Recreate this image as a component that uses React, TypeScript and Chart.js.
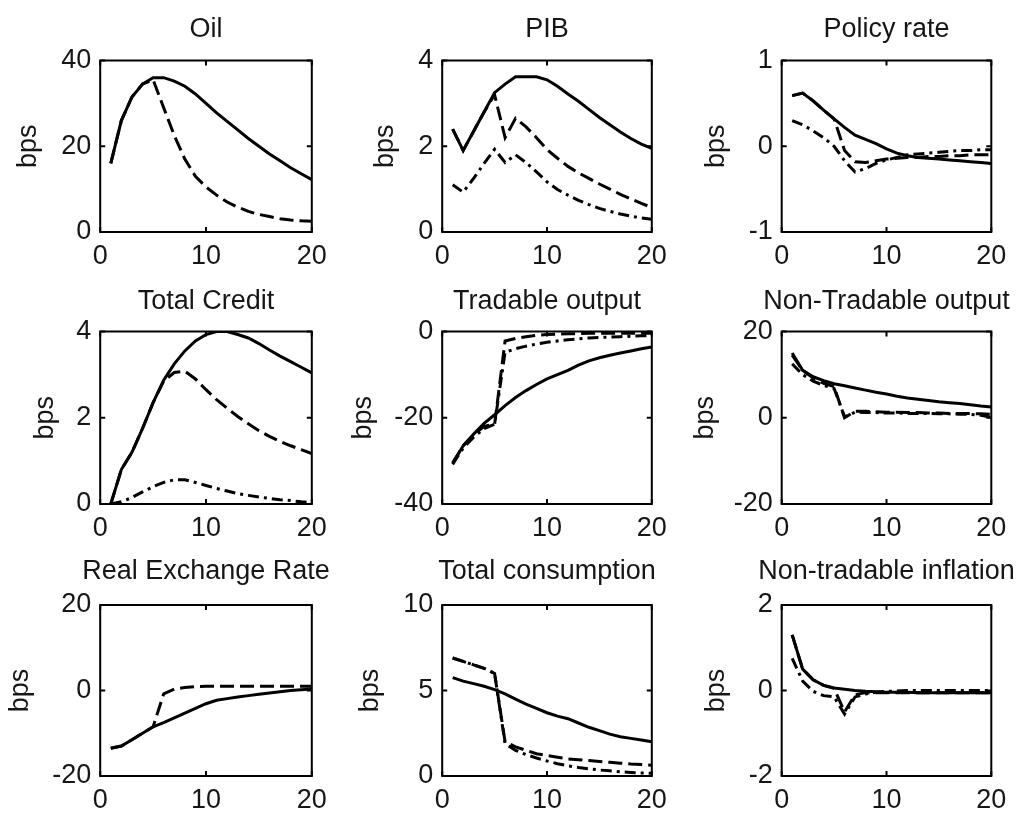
import React, { useEffect, useRef } from 'react';
import { Chart, registerables } from 'chart.js';

Chart.register(...registerables);

// ---------- DATA ----------
const periods = [1, 2, 3, 4, 5, 6, 7, 8, 9, 10, 11, 12, 13, 14, 15, 16, 17, 18, 19, 20];
const xTicks = [0, 10, 20];

const oilSolid = [16, 26, 31.5, 34.5, 36, 36, 35.2, 34, 32.2, 30, 27.8, 25.8, 23.8, 21.8, 20, 18.2, 16.6, 15, 13.6, 12.2];
const oilDashed = [16, 26, 31.5, 34.5, 35.5, 29, 22.5, 17, 13, 10.5, 8.6, 7, 5.8, 4.8, 4.1, 3.6, 3.1, 2.8, 2.6, 2.5];

const pibSolid = [2.4, 1.9, 2.35, 2.8, 3.25, 3.45, 3.62, 3.62, 3.62, 3.55, 3.4, 3.22, 3.05, 2.86, 2.67, 2.5, 2.33, 2.18, 2.05, 1.95];
const pibDashed = [2.4, 1.9, 2.35, 2.8, 3.2, 2.2, 2.65, 2.45, 2.2, 1.92, 1.72, 1.53, 1.38, 1.25, 1.12, 1.0, 0.88, 0.77, 0.67, 0.57];
const pibDashDot = [1.1, 0.93, 1.25, 1.6, 1.93, 1.62, 1.8, 1.62, 1.4, 1.17, 0.99, 0.86, 0.74, 0.64, 0.55, 0.48, 0.42, 0.37, 0.33, 0.3];

const policySolid = [0.59, 0.62, 0.53, 0.42, 0.32, 0.22, 0.13, 0.08, 0.03, -0.03, -0.08, -0.11, -0.13, -0.14, -0.15, -0.16, -0.17, -0.18, -0.19, -0.2];
const policyDashed = [0.59, 0.62, 0.53, 0.42, 0.32, -0.05, -0.18, -0.19, -0.17, -0.15, -0.14, -0.13, -0.13, -0.12, -0.12, -0.11, -0.11, -0.1, -0.1, -0.1];
const policyDashDot = [0.3, 0.25, 0.18, 0.1, 0.0, -0.17, -0.3, -0.26, -0.2, -0.16, -0.13, -0.1, -0.09, -0.08, -0.07, -0.06, -0.05, -0.05, -0.04, -0.04];

const creditSolid = [0.0, 0.8, 1.2, 1.75, 2.35, 2.87, 3.25, 3.55, 3.78, 3.93, 4.0, 4.0, 3.93, 3.85, 3.72, 3.57, 3.43, 3.3, 3.17, 3.04];
const creditDashed = [0.0, 0.8, 1.2, 1.75, 2.35, 2.85, 3.05, 3.08, 2.9, 2.65, 2.42, 2.22, 2.03, 1.86, 1.7, 1.57, 1.45, 1.35, 1.26, 1.17];
const creditDashDot = [0.0, 0.05, 0.15, 0.28, 0.4, 0.5, 0.56, 0.56, 0.5, 0.43, 0.36, 0.3, 0.24, 0.2, 0.16, 0.13, 0.1, 0.08, 0.05, 0.03];

const tradSolid = [-30.5, -26.5, -23.8, -21.3, -19.3, -17.2, -15.3, -13.7, -12.3, -11.0, -10.0, -9.0, -7.8, -6.8, -6.1, -5.5, -5.0, -4.5, -4.0, -3.6];
const tradDashed = [-30.5, -26.5, -24, -22, -21.5, -2.2, -1.6, -1.2, -0.9, -0.7, -0.6, -0.5, -0.5, -0.4, -0.4, -0.4, -0.4, -0.4, -0.4, -0.4];
const tradDashDot = [-30.8, -27, -24.5, -22.5, -21.5, -4.8, -4.0, -3.4, -2.9, -2.5, -2.2, -1.9, -1.7, -1.5, -1.4, -1.3, -1.2, -1.1, -1.0, -1.0];

const nontradSolid = [15, 11, 9.5, 8.6, 7.9, 7.4, 6.9, 6.4, 5.9, 5.5, 5.0, 4.6, 4.3, 4.0, 3.7, 3.5, 3.3, 3.0, 2.7, 2.5];
const nontradDashed = [14.5, 11, 9.2, 8.0, 7.2, 0.0, 1.5, 1.5, 1.4, 1.3, 1.3, 1.2, 1.2, 1.1, 1.1, 1.0, 1.0, 1.0, 0.9, 0.8];
const nontradDashDot = [12.5, 10, 8.5, 7.5, 6.8, 0.2, 1.3, 1.2, 1.2, 1.1, 1.1, 1.0, 1.0, 1.0, 0.9, 0.9, 0.8, 0.8, 0.6, 0.1];

const rerSolid = [-13.5, -13.0, -11.5, -10.0, -8.5, -7.5, -6.4, -5.3, -4.2, -3.1, -2.3, -1.9, -1.5, -1.2, -0.9, -0.6, -0.3, 0.0, 0.2, 0.35];
const rerDashed = [-13.5, -13.0, -11.5, -10.0, -8.5, -0.8, 0.3, 0.7, 0.9, 1.0, 1.0, 1.0, 1.0, 1.0, 1.0, 1.0, 1.0, 1.0, 1.0, 1.0];

const consSolid = [5.75, 5.55, 5.4, 5.25, 5.05, 4.8, 4.5, 4.2, 3.95, 3.7, 3.5, 3.35, 3.1, 2.85, 2.65, 2.45, 2.3, 2.2, 2.1, 2.0];
const consDashed = [6.9, 6.7, 6.5, 6.3, 6.0, 2.0, 1.7, 1.5, 1.3, 1.2, 1.1, 1.0, 0.95, 0.9, 0.85, 0.8, 0.75, 0.7, 0.67, 0.63];
const consDashDot = [6.9, 6.7, 6.5, 6.3, 6.0, 1.9, 1.5, 1.25, 1.05, 0.88, 0.72, 0.6, 0.5, 0.42, 0.35, 0.3, 0.25, 0.21, 0.18, 0.16];

const inflSolid = [1.3, 0.5, 0.25, 0.12, 0.06, 0.03, 0.0, -0.02, -0.03, -0.04, -0.04, -0.04, -0.05, -0.05, -0.05, -0.05, -0.05, -0.05, -0.05, -0.05];
const inflDashed = [1.3, 0.5, 0.25, 0.12, 0.05, -0.5, -0.1, -0.05, -0.05, -0.05, -0.05, -0.05, -0.05, -0.05, -0.05, -0.05, -0.05, -0.05, -0.05, -0.05];
const inflDashDot = [0.75, 0.22, -0.02, -0.12, -0.15, -0.55, -0.15, -0.08, -0.04, -0.02, -0.01, 0.0, 0.0, 0.0, 0.0, 0.0, 0.0, 0.0, 0.0, 0.0];

const titles = ['Oil', 'PIB', 'Policy rate', 'Total Credit', 'Tradable output', 'Non-Tradable output', 'Real Exchange Rate', 'Total consumption', 'Non-tradable inflation'];
const yLabel = 'bps';
const yMins = [0, 0, -1, 0, -40, -20, -20, 0, -2];
const yMaxs = [40, 4, 1, 4, 0, 20, 20, 10, 2];
const ySteps = [20, 2, 1, 2, 20, 20, 20, 5, 2];

const seriesSets = [
  [oilSolid, oilDashed],
  [pibSolid, pibDashed, pibDashDot],
  [policySolid, policyDashed, policyDashDot],
  [creditSolid, creditDashed, creditDashDot],
  [tradSolid, tradDashed, tradDashDot],
  [nontradSolid, nontradDashed, nontradDashDot],
  [rerSolid, rerDashed],
  [consSolid, consDashed, consDashDot],
  [inflSolid, inflDashed, inflDashDot],
];

// ---------- LAYOUT (page pixels) ----------
const colLeft = [100, 442, 781.5];
const colRight = [312, 652, 991.5];
const rowTop = [60, 331, 605];
const rowBottom = [231, 503.5, 776];
const titlePad = [17.5, 16.5, 20];
const bpsInkLeft = [18, 375, 706, 35, 353, 695, 10, 360, 706];

const FONT = "'Liberation Sans', Arial, Helvetica, sans-serif";
const FS = 27;
const SIDE_PAD = 12;
const XAXIS_H = 45;
const TEXT_COLOR = '#161616';
const dashes = [[], [14, 6], [11, 5, 3, 5]];

const framePlugin = {
  id: 'matlabFrame',
  afterDatasetsDraw(chart: any) {
    const { ctx, chartArea: a, scales } = chart;
    ctx.save();
    ctx.strokeStyle = '#000';
    ctx.lineWidth = 2;
    ctx.strokeRect(a.left, a.top, a.right - a.left, a.bottom - a.top);
    const tl = 5;
    ctx.beginPath();
    scales.x.ticks.forEach((t: any) => {
      const px = scales.x.getPixelForValue(t.value);
      ctx.moveTo(px, a.bottom);
      ctx.lineTo(px, a.bottom - tl);
      ctx.moveTo(px, a.top);
      ctx.lineTo(px, a.top + tl);
    });
    scales.y.ticks.forEach((t: any) => {
      const py = scales.y.getPixelForValue(t.value);
      ctx.moveTo(a.left, py);
      ctx.lineTo(a.left + tl, py);
      ctx.moveTo(a.right, py);
      ctx.lineTo(a.right - tl, py);
    });
    ctx.stroke();
    ctx.restore();
  },
};

function Panel({ idx }: { idx: number }) {
  const ref = useRef<HTMLCanvasElement | null>(null);
  const col = idx % 3;
  const row = Math.floor(idx / 3);
  const pl = colLeft[col];
  const pr = colRight[col];
  const pt = rowTop[row];
  const pb = rowBottom[row];
  const titleH = FS + titlePad[row];
  const wy = pl - bpsInkLeft[idx] + 3.2;
  const ext = wy + SIDE_PAD;
  const left = pl - ext;
  const top = pt - titleH;
  const width = pr - pl + 2 * ext;
  const height = titleH + (pb - pt) + XAXIS_H;

  useEffect(() => {
    if (!ref.current) return;
    const font = { family: FONT, size: FS, weight: 'normal' as const, lineHeight: 1 };
    const chart = new Chart(ref.current, {
      type: 'line',
      data: {
        datasets: seriesSets[idx].map((vals, k) => ({
          data: periods.map((p, i) => ({ x: p, y: vals[i] })),
          borderColor: '#000',
          borderWidth: 3,
          borderDash: dashes[k],
          pointRadius: 0,
          fill: false,
          tension: 0,
          yAxisID: 'y',
        })),
      },
      options: {
        animation: false,
        responsive: false,
        devicePixelRatio: 1,
        events: [],
        layout: { padding: { left: SIDE_PAD, right: SIDE_PAD, top: 0, bottom: 0 } },
        plugins: {
          legend: { display: false },
          tooltip: { enabled: false },
          title: {
            display: true,
            text: titles[idx],
            color: TEXT_COLOR,
            font,
            padding: { top: 0, bottom: titlePad[row] },
          },
        },
        scales: {
          x: {
            type: 'linear',
            min: xTicks[0],
            max: xTicks[xTicks.length - 1],
            afterBuildTicks: (s: any) => {
              s.ticks = xTicks.map((v) => ({ value: v }));
            },
            ticks: { font, color: TEXT_COLOR, padding: 11, maxRotation: 0, autoSkip: false },
            grid: { display: false, drawTicks: false },
            border: { display: false },
            afterFit: (s: any) => {
              s.height = XAXIS_H;
            },
          },
          y: {
            type: 'linear',
            position: 'left',
            min: yMins[idx],
            max: yMaxs[idx],
            ticks: { stepSize: ySteps[idx], font, color: TEXT_COLOR, padding: 9 },
            grid: { display: false, drawTicks: false },
            border: { display: false },
            title: { display: true, text: yLabel, color: TEXT_COLOR, font, padding: 0 },
            afterFit: (s: any) => {
              s.width = wy;
            },
          },
          yRight: {
            type: 'linear',
            position: 'right',
            min: yMins[idx],
            max: yMaxs[idx],
            ticks: { display: false },
            grid: { display: false, drawTicks: false },
            border: { display: false },
            afterFit: (s: any) => {
              s.width = wy;
            },
          },
        },
      } as any,
      plugins: [framePlugin],
    });
    return () => chart.destroy();
  }, [idx]);

  return (
    <canvas
      ref={ref}
      width={Math.round(width)}
      height={Math.round(height)}
      style={{ position: 'absolute', left, top, width: Math.round(width), height: Math.round(height) }}
    />
  );
}

export default function App() {
  return (
    <div style={{ position: 'absolute', left: 0, top: 0, width: 1018, height: 813, background: '#fff', overflow: 'hidden' }}>
      {titles.map((_, i) => (
        <Panel key={i} idx={i} />
      ))}
    </div>
  );
}
